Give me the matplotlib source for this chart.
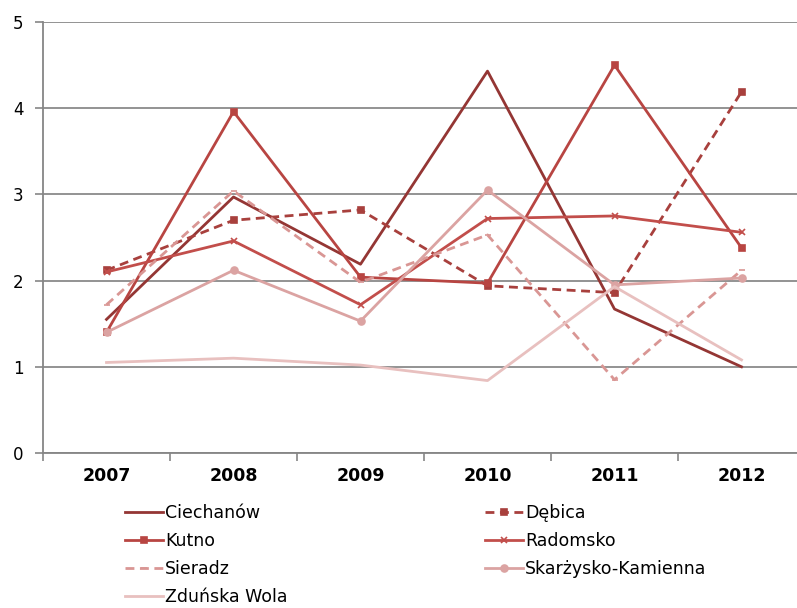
import matplotlib
matplotlib.use("Agg")
import matplotlib.pyplot as plt
import numpy as np

years = ["2007", "2008", "2009", "2010", "2011", "2012"]

ciechanow = [1.55, 2.97, 2.19, 4.43, 1.67, 1.00]
debica = [2.12, 2.70, 2.82, 1.94, 1.86, 4.19]
kutno = [1.40, 3.96, 2.04, 1.97, 4.50, 2.38]
radomsko = [2.10, 2.46, 1.72, 2.72, 2.75, 2.56]
sieradz = [1.72, 3.04, 1.98, 2.53, 0.85, 2.12]
skarzysko = [1.40, 2.12, 1.53, 3.05, 1.95, 2.03]
zdunska = [1.05, 1.10, 1.02, 0.84, 1.93, 1.08]

plt.rcParams["font.family"] = ["DejaVu Sans"]

fig = plt.figure(figsize=(7.97, 6.08), dpi=100)
ax = fig.add_axes([43 / 797, 155 / 608, 762 / 797, 431 / 608])

x = np.arange(len(years))
dash = (0, (3.2, 2.0))

series = [
    ("Ciechanów", ciechanow, "#943634", "-", None, 0),
    ("Dębica", debica, "#A8403D", dash, "s", 5),
    ("Kutno", kutno, "#B84542", "-", "s", 5),
    ("Radomsko", radomsko, "#C24E4B", "-", "x", 5),
    ("Sieradz", sieradz, "#D99694", dash, "_", 4),
    ("Skarżysko-Kamienna", skarzysko, "#DBA3A2", "-", "o", 5),
    ("Zduńska Wola", zdunska, "#E8C0BF", "-", None, 0),
]

handles = {}
for name, vals, color, ls, mk, ms in series:
    (h,) = ax.plot(x, vals, color=color, linestyle=ls, linewidth=2.0,
                   marker=mk, markersize=ms, markeredgewidth=1.2,
                   markerfacecolor=color, markeredgecolor=color, label=name)
    handles[name] = h

ax.set_xlim(-0.5, len(years) - 0.5)
ax.set_ylim(0, 5)
ax.set_yticks(range(0, 6))
ax.set_xticks(x)
ax.set_xticklabels(years, fontweight="bold", fontsize=12.5)
ax.set_xticks(np.arange(-0.5, len(years)), minor=True)
ax.tick_params(axis="x", which="major", length=0, pad=10)
ax.tick_params(axis="x", which="minor", length=6, color="#868686", width=1.2)
ax.tick_params(axis="y", length=6, color="#868686", width=1.2, pad=8, labelsize=12)

ax.grid(axis="y", color="#8a8a8a", linewidth=1.3)
ax.set_axisbelow(True)
for side in ["top", "right"]:
    ax.spines[side].set_visible(False)
for side in ["left", "bottom"]:
    ax.spines[side].set_color("#868686")
    ax.spines[side].set_linewidth(1.3)

order = ["Ciechanów", "Kutno", "Sieradz", "Zduńska Wola",
         "Dębica", "Radomsko", "Skarżysko-Kamienna"]
fig.legend([handles[n] for n in order], order, ncol=2, frameon=False,
           loc="upper left", bbox_to_anchor=(118 / 797, 1 - 497 / 608),
           fontsize=12.5, handlelength=2.2, handletextpad=0.1,
           columnspacing=11.4, labelspacing=0.58, borderaxespad=0)

fig.savefig("out.png", dpi=100)
